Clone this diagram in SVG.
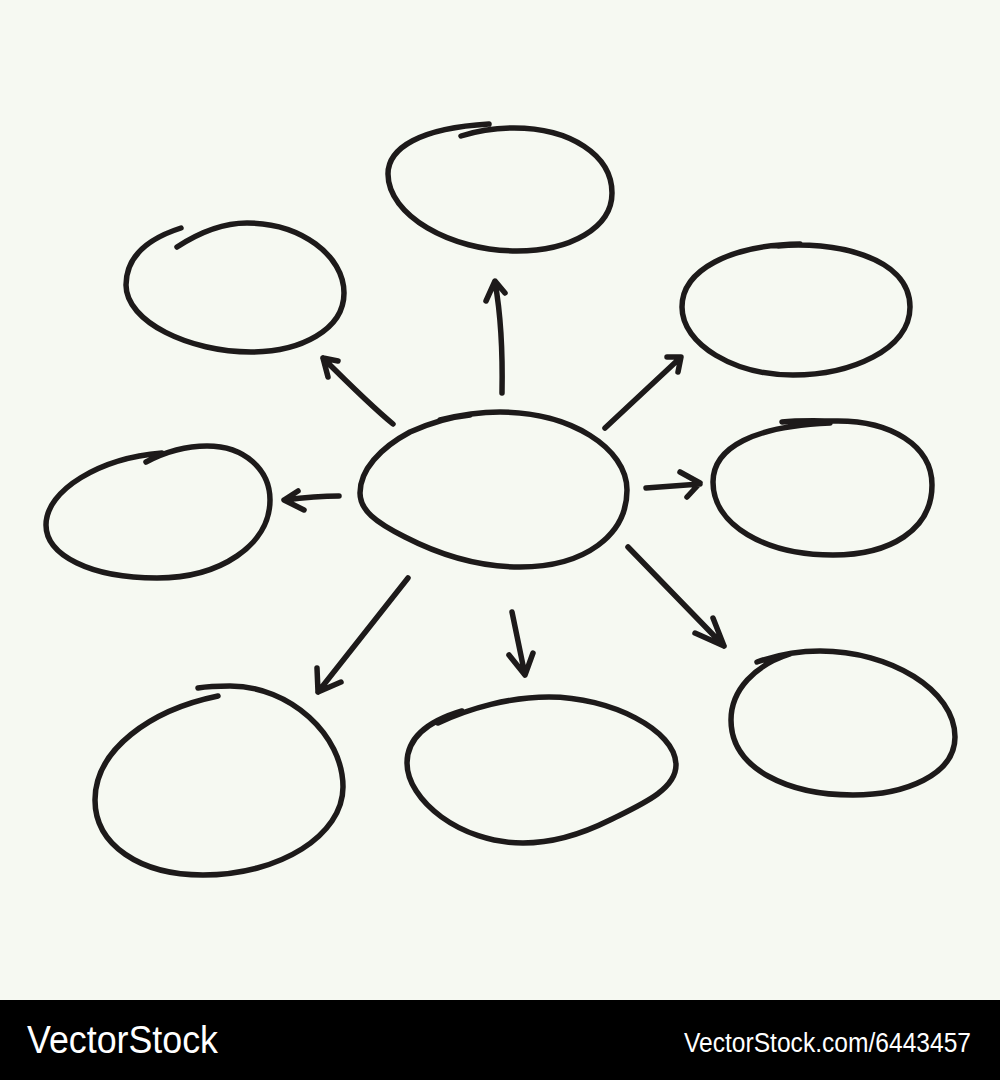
<svg xmlns="http://www.w3.org/2000/svg" width="1000" height="1080" viewBox="0 0 1000 1080">
<style>
.bg{fill:#f6f9f2}
.node path{fill:none;stroke:#1d1a1a;stroke-width:5.5;stroke-linecap:round;stroke-linejoin:round}
#connectors path{fill:none;stroke:#1d1a1a;stroke-width:5.5;stroke-linecap:round;stroke-linejoin:round}
.bar{fill:#000}
.wm{fill:#fff;font-family:"Liberation Sans",Arial,sans-serif}
</style>
<rect class="bg" x="0" y="0" width="1000" height="1000"/>
<g id="node-center" class="node"><path d="M440,420 C460,415 480,412 500,412 C570,412 627,448 627,490 C627,535 585,567 520,567 C480,567 440,555 405,537 C375,522 360,510 360,493 C360,470 380,448 410,432 C430,423 450,417 470,415"/></g>
<g id="node-top" class="node"><path d="M461,136 C480,130 500,128 514,128 C570,128 612,155 612,193 C612,228 570,251 517,251 C450,251 388,215 388,174 C388,148 420,128 489,124"/></g>
<g id="node-upper-left" class="node"><path d="M177,247 C200,232 225,223 247,223 C300,223 344,255 344,293 C344,330 300,352 251,352 C190,352 126,322 126,285 C126,255 150,238 181,228"/></g>
<g id="node-upper-right" class="node"><path d="M778,246 C830,241 910,255 910,307 C910,350 850,375 793,375 C735,375 682,345 682,307 C682,270 730,245 800,244"/></g>
<g id="node-right" class="node"><path d="M782,422 C800,420 820,421 838,421 C890,421 932,445 932,485 C932,530 890,555 833,555 C765,555 713,525 713,482 C713,447 755,426 830,423"/></g>
<g id="node-left" class="node"><path d="M146,462 C165,452 185,446 207,446 C245,446 270,470 270,500 C270,545 220,578 157,578 C90,578 46,555 46,525 C46,490 100,458 162,453"/></g>
<g id="node-lower-left" class="node"><path d="M198,688 C210,686 220,686 230,686 C290,686 343,735 343,787 C343,835 280,875 203,875 C140,875 95,845 95,800 C95,750 150,710 218,696"/></g>
<g id="node-bottom" class="node"><path d="M438,723 C470,708 510,697 549,697 C610,697 676,730 676,765 C676,790 640,805 610,820 C580,835 550,843 523,843 C460,843 407,800 407,763 C407,740 425,722 462,711"/></g>
<g id="node-lower-right" class="node"><path d="M757,662 C780,654 800,651 820,651 C890,651 955,690 955,737 C955,775 905,795 853,795 C790,795 731,770 731,720 C731,690 755,665 790,654"/></g>
<g id="connectors">
<path d="M502,393 C503,340 500,310 495,282 M486,301 L495,281 L505,293"/>
<path d="M605,428 L680,358 M667,357 L681,357 L678,372"/>
<path d="M646,488 L700,484 M680,472 L700,483 L687,497"/>
<path d="M628,547 L724,646 M713,618 L724,646 L695,633"/>
<path d="M512,612 L525,675 M509,655 L525,675 L533,653"/>
<path d="M408,578 L318,692 M317,668 L318,692 L341,682"/>
<path d="M339,496 C320,496 300,498 284,500 M298,491 L284,500 L304,510"/>
<path d="M393,424 C370,405 345,380 323,358 M328,377 L323,358 L338,361"/>
</g>
<rect class="bar" x="0" y="1000" width="1000" height="80"/>
<text class="wm" x="27" y="1053" font-size="38" textLength="191" lengthAdjust="spacingAndGlyphs">VectorStock</text>
<text class="wm" x="684" y="1052" font-size="27" textLength="287" lengthAdjust="spacingAndGlyphs">VectorStock.com/6443457</text>
</svg>
